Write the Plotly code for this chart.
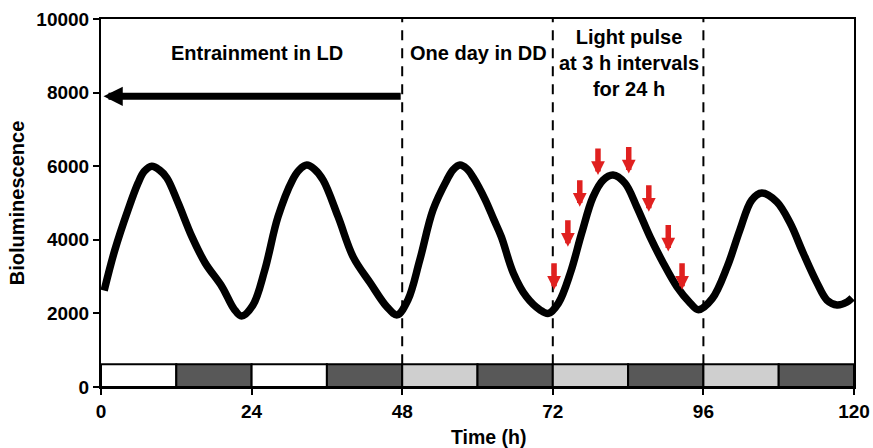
import plotly.graph_objects as go

# Bioluminescence trace (time in h, counts)
time_h = [0.5, 2.2, 4.3, 5.9, 6.9, 8.1, 9.3, 10.5, 12.3, 14.5, 16.6, 19.3, 21.2, 22.4, 24.2,
          26.1, 28.2, 30.5, 31.6, 32.8, 34.0, 35.4, 37.8, 40.2, 42.9, 45.6, 47.2, 48.9,
          50.8, 52.9, 55.1, 56.1, 57.2, 58.3, 59.3, 61.2, 62.6, 63.8, 65.7, 67.8, 70.0,
          71.3, 72.9, 74.8, 76.6, 78.4, 80.0, 81.6, 83.5, 85.4, 87.5, 89.6, 91.8, 93.9,
          95.2, 97.4, 99.8, 101.8, 103.7, 105.3, 107.7, 109.8, 111.9, 114.1, 115.7, 117.3,
          118.9, 119.7]
biolum = [2620, 3720, 4810, 5540, 5860, 6000, 5900, 5680, 5000, 4080, 3370, 2720, 2120, 1930,
          2220, 3180, 4620, 5620, 5900, 6030, 5920, 5620, 4620, 3530, 2830, 2170, 1960, 2360,
          3450, 4810, 5620, 5900, 6030, 5930, 5700, 5100, 4550, 4080, 3100, 2450, 2090,
          2000, 2280, 3100, 4180, 5160, 5620, 5760, 5540, 4890, 4080, 3370, 2720, 2280,
          2100, 2400, 3270, 4260, 5080, 5270, 5030, 4460, 3640, 2830, 2360, 2230,
          2310, 2420]

# Light pulses (time of pulse, curve level at arrow tip)
pulse_t = [72.2, 74.4, 76.3, 79.2, 84.1, 87.3, 90.4, 92.6]
pulse_level = [2640, 3810, 4900, 5760, 5800, 4760, 3680, 2640]

# Light/dark bar segments
seg_start = [0, 12, 24, 36, 48, 60, 72, 84, 96, 108]
seg_end = [12, 24, 36, 48, 60, 72, 84, 96, 108, 120]
seg_kind = ["light", "dark", "light", "dark", "subjective", "dark",
            "subjective", "dark", "subjective", "dark"]
seg_color = {"light": "#ffffff", "dark": "#585858", "subjective": "#cfcfcf"}
bar_top = 620

phase_bounds = [48, 72, 96]
x_ticks = [0, 24, 48, 72, 96, 120]
y_ticks = [0, 2000, 4000, 6000, 8000, 10000]
y_tick_text = ["0", "2000", "4000", "6000", "8000", "10000"]

FONT = "Liberation Sans, Arial, Helvetica, sans-serif"

fig = go.Figure()
fig.add_trace(go.Scatter(
    x=time_h, y=biolum, mode="lines",
    line=dict(color="black", width=7.5, shape="spline", smoothing=1.0),
    hoverinfo="skip", showlegend=False,
))

shapes = []
for b in phase_bounds:
    shapes.append(dict(type="line", xref="x", yref="y", x0=b, x1=b, y0=bar_top, y1=10000,
                       line=dict(color="black", width=2, dash="10px,8px"), layer="below"))
for s, e, k in zip(seg_start, seg_end, seg_kind):
    shapes.append(dict(type="rect", xref="x", yref="y", x0=s, x1=e, y0=0, y1=bar_top,
                       fillcolor=seg_color[k], line=dict(color="black", width=2), layer="above"))

annotations = []
# Red light-pulse arrows
for t, lv in zip(pulse_t, pulse_level):
    annotations.append(dict(x=t, y=lv, xref="x", yref="y", text="", showarrow=True,
                            ax=0, ay=-28, arrowhead=2, arrowwidth=5.5, arrowsize=0.5,
                            arrowcolor="#e0201f", standoff=0))
# Entrainment arrow pointing back to time zero
annotations.append(dict(x=0.4, y=7900, xref="x", yref="y", ax=48, ay=7900,
                        axref="x", ayref="y", text="", showarrow=True,
                        arrowhead=2, arrowwidth=7, arrowsize=0.55,
                        arrowcolor="black", standoff=0))

label_font = dict(family=FONT, size=20, color="black", weight="bold")
annotations.append(dict(x=24.9, y=9080, xref="x", yref="y", text="Entrainment in LD",
                        showarrow=False, font=label_font))
annotations.append(dict(x=60.2, y=9080, xref="x", yref="y", text="One day in DD",
                        showarrow=False, font=label_font))
annotations.append(dict(x=84.1, y=8800, xref="x", yref="y",
                        text="Light pulse<br>at 3 h intervals<br>for 24 h",
                        showarrow=False, font=label_font, align="center"))
annotations.append(dict(x=61.7, y=0, xref="x", yref="paper", yanchor="top", yshift=-37,
                        text="Time (h)", showarrow=False,
                        font=dict(family=FONT, size=19.5, color="black", weight="bold")))

tick_font = dict(family=FONT, size=19, color="black", weight="bold")
fig.update_layout(
    width=873, height=448,
    margin=dict(l=101, r=19, t=19, b=61, autoexpand=False),
    paper_bgcolor="white", plot_bgcolor="white",
    shapes=shapes, annotations=annotations,
    xaxis=dict(range=[0, 120], tickvals=x_ticks, ticks="outside", ticklen=6, tickwidth=2,
               tickcolor="black", showline=True, linewidth=2, linecolor="black",
               mirror=True, showgrid=False, zeroline=False, tickfont=tick_font,
               automargin=False),
    yaxis=dict(range=[0, 10000], tickvals=y_ticks, ticktext=y_tick_text, ticks="outside",
               ticklen=6, tickwidth=2, tickcolor="black", showline=True, linewidth=2,
               linecolor="black", mirror=True, showgrid=False, zeroline=False,
               tickfont=tick_font, automargin=False,
               title=dict(text="Bioluminescence", standoff=6,
                          font=dict(family=FONT, size=20, color="black", weight="bold"))),
)

fig.write_html("out.html")
